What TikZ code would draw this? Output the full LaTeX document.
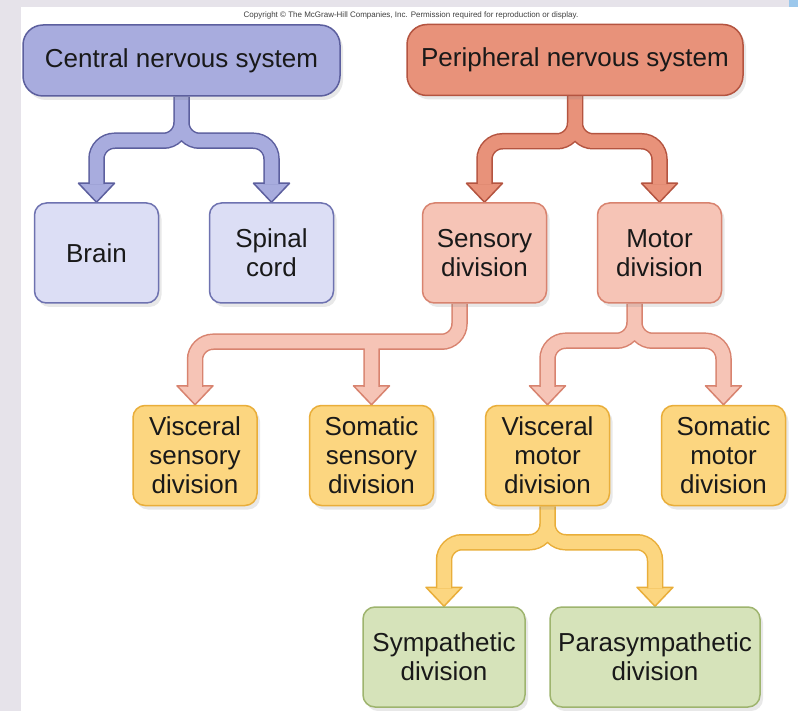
\documentclass[tikz,border=0pt]{standalone}
\usepackage{fontspec}
\setmainfont{Liberation Sans}
\usetikzlibrary{calc,shadows}

\definecolor{pagegray}{HTML}{E6E3EA}
\definecolor{cornerblue}{HTML}{9CC8EC}
\definecolor{cnsfill}{HTML}{A8ACDE}
\definecolor{cnsedge}{HTML}{5C5F9E}
\definecolor{brainfill}{HTML}{DCDEF5}
\definecolor{brainedge}{HTML}{6E72B0}
\definecolor{pnsfill}{HTML}{E8927A}
\definecolor{pnsedge}{HTML}{B45440}
\definecolor{sensfill}{HTML}{F6C4B6}
\definecolor{sensedge}{HTML}{D8836F}
\definecolor{yelfill}{HTML}{FCD680}
\definecolor{yeledge}{HTML}{E9AE3A}
\definecolor{greenfill}{HTML}{D6E3BA}
\definecolor{greenedge}{HTML}{9EB46E}

\pgfdeclarelayer{background}
\pgfdeclarelayer{flow}
\pgfsetlayers{background,flow,main}

\newcommand{\flowhead}[3]{%
    \filldraw[fill=#2, draw=#3, line width=1.5pt, line join=round] (#1) -- ++(-18,-19) -- ++(36,0) -- cycle;}

\begin{document}
\begin{tikzpicture}[x=1pt,y=-1pt]
    \tikzset{box/.style={draw, line width=1.5pt, align=center, text=black!90, inner sep=0pt,
            font=\fontsize{26}{29}\selectfont,
            drop shadow={shadow xshift=3pt, shadow yshift=-4pt, opacity=0.18}},
        bigbox/.style={box, rounded corners=20pt, minimum height=71pt},
        smallbox/.style={box, rounded corners=12pt, minimum width=124pt, minimum height=100pt},
        flowline/.style={line width=1.5pt, double distance=13.5pt, rounded corners=18pt}}
    \useasboundingbox (0,0) rectangle (798,711);

    %Seite
    \begin{pgfonlayer}{background}
        \fill[pagegray] (0,0) rectangle (798,711);
        \fill[white] (21,7) rectangle (798,711);
        \fill[cornerblue] (789,0) rectangle (798,7);
    \end{pgfonlayer}
    \node[font=\fontsize{8}{9}\selectfont, text=black!75] (copy) at (411,15)
        {Copyright © The McGraw-Hill Companies, Inc. Permission required for reproduction or display.};

    %Systeme
    \node[bigbox, fill=cnsfill, draw=cnsedge, minimum width=317pt] (cns) at (181.5,60.5) {Central nervous system};
    \node[bigbox, fill=pnsfill, draw=pnsedge, minimum width=336pt] (pns) at (575,60) {Peripheral nervous system};

    %Zweite Ebene
    \node[smallbox, fill=brainfill, draw=brainedge] (brain) at (96.5,253) {Brain};
    \node[smallbox, fill=brainfill, draw=brainedge] (spinal) at (271.5,253) {Spinal\\cord};
    \node[smallbox, fill=sensfill, draw=sensedge] (sensory) at (484.5,253) {Sensory\\division};
    \node[smallbox, fill=sensfill, draw=sensedge] (motor) at (659.5,253) {Motor\\division};

    %Dritte Ebene
    \node[smallbox, fill=yelfill, draw=yeledge] (viscsens) at (195,455.5) {Visceral\\sensory\\division};
    \node[smallbox, fill=yelfill, draw=yeledge] (somsens) at (371.5,455.5) {Somatic\\sensory\\division};
    \node[smallbox, fill=yelfill, draw=yeledge] (viscmot) at (547.5,455.5) {Visceral\\motor\\division};
    \node[smallbox, fill=yelfill, draw=yeledge] (sommot) at (723.5,455.5) {Somatic\\motor\\division};

    %Vierte Ebene
    \node[smallbox, fill=greenfill, draw=greenedge, minimum width=162pt] (symp) at (444,657) {Sympathetic\\division};
    \node[smallbox, fill=greenfill, draw=greenedge, minimum width=210pt] (para) at (655,657) {Parasympathetic\\division};

    \begin{pgfonlayer}{flow}
        %CNS
        \coordinate (cnsj) at ($(cns.south)+(0,44)$);
        \coordinate (brainh) at ($(brain.north)+(0,-18)$);
        \coordinate (spinalh) at ($(spinal.north)+(0,-18)$);
        \flowhead{brain.north}{cnsfill}{cnsedge}
        \flowhead{spinal.north}{cnsfill}{cnsedge}
        \draw[flowline, draw=cnsedge, double=cnsfill] (cns.south) -- (cnsj) -| (brainh)
                                                      (cns.south) -- (cnsj) -| (spinalh);

        %PNS
        \coordinate (pnsj) at ($(pns.south)+(0,45)$);
        \coordinate (sensoryh) at ($(sensory.north)+(0,-18)$);
        \coordinate (motorh) at ($(motor.north)+(0,-18)$);
        \flowhead{sensory.north}{pnsfill}{pnsedge}
        \flowhead{motor.north}{pnsfill}{pnsedge}
        \draw[flowline, draw=pnsedge, double=pnsfill] (pns.south) -- (pnsj) -| (sensoryh)
                                                      (pns.south) -- (pnsj) -| (motorh);

        %Sensorisch
        \coordinate (senss) at ($(sensory.south)+(-25,0)$);
        \coordinate (sensj) at ($(sensory.south)+(-25,38)$);
        \coordinate (viscsensh) at ($(viscsens.north)+(0,-18)$);
        \coordinate (somsensh) at ($(somsens.north)+(0,-18)$);
        \flowhead{viscsens.north}{sensfill}{sensedge}
        \flowhead{somsens.north}{sensfill}{sensedge}
        \draw[flowline, draw=sensedge, double=sensfill] (senss) -- (sensj) -| (viscsensh)
                                                        (somsensh |- sensj) -- (somsensh);

        %Motorisch
        \coordinate (mots) at ($(motor.south)+(-25,0)$);
        \coordinate (motj) at ($(motor.south)+(-25,37)$);
        \coordinate (viscmoth) at ($(viscmot.north)+(0,-18)$);
        \coordinate (sommoth) at ($(sommot.north)+(0,-18)$);
        \flowhead{viscmot.north}{sensfill}{sensedge}
        \flowhead{sommot.north}{sensfill}{sensedge}
        \draw[flowline, draw=sensedge, double=sensfill] (mots) -- (motj) -| (viscmoth)
                                                        (mots) -- (motj) -| (sommoth);

        %Viszeral motorisch
        \coordinate (vmj) at ($(viscmot.south)+(0,36)$);
        \coordinate (symph) at ($(symp.north)+(0,-18)$);
        \coordinate (parah) at ($(para.north)+(0,-18)$);
        \flowhead{symp.north}{yelfill}{yeledge}
        \flowhead{para.north}{yelfill}{yeledge}
        \draw[flowline, draw=yeledge, double=yelfill] (viscmot.south) -- (vmj) -| (symph)
                                                      (viscmot.south) -- (vmj) -| (parah);
    \end{pgfonlayer}

\end{tikzpicture}
\end{document}
